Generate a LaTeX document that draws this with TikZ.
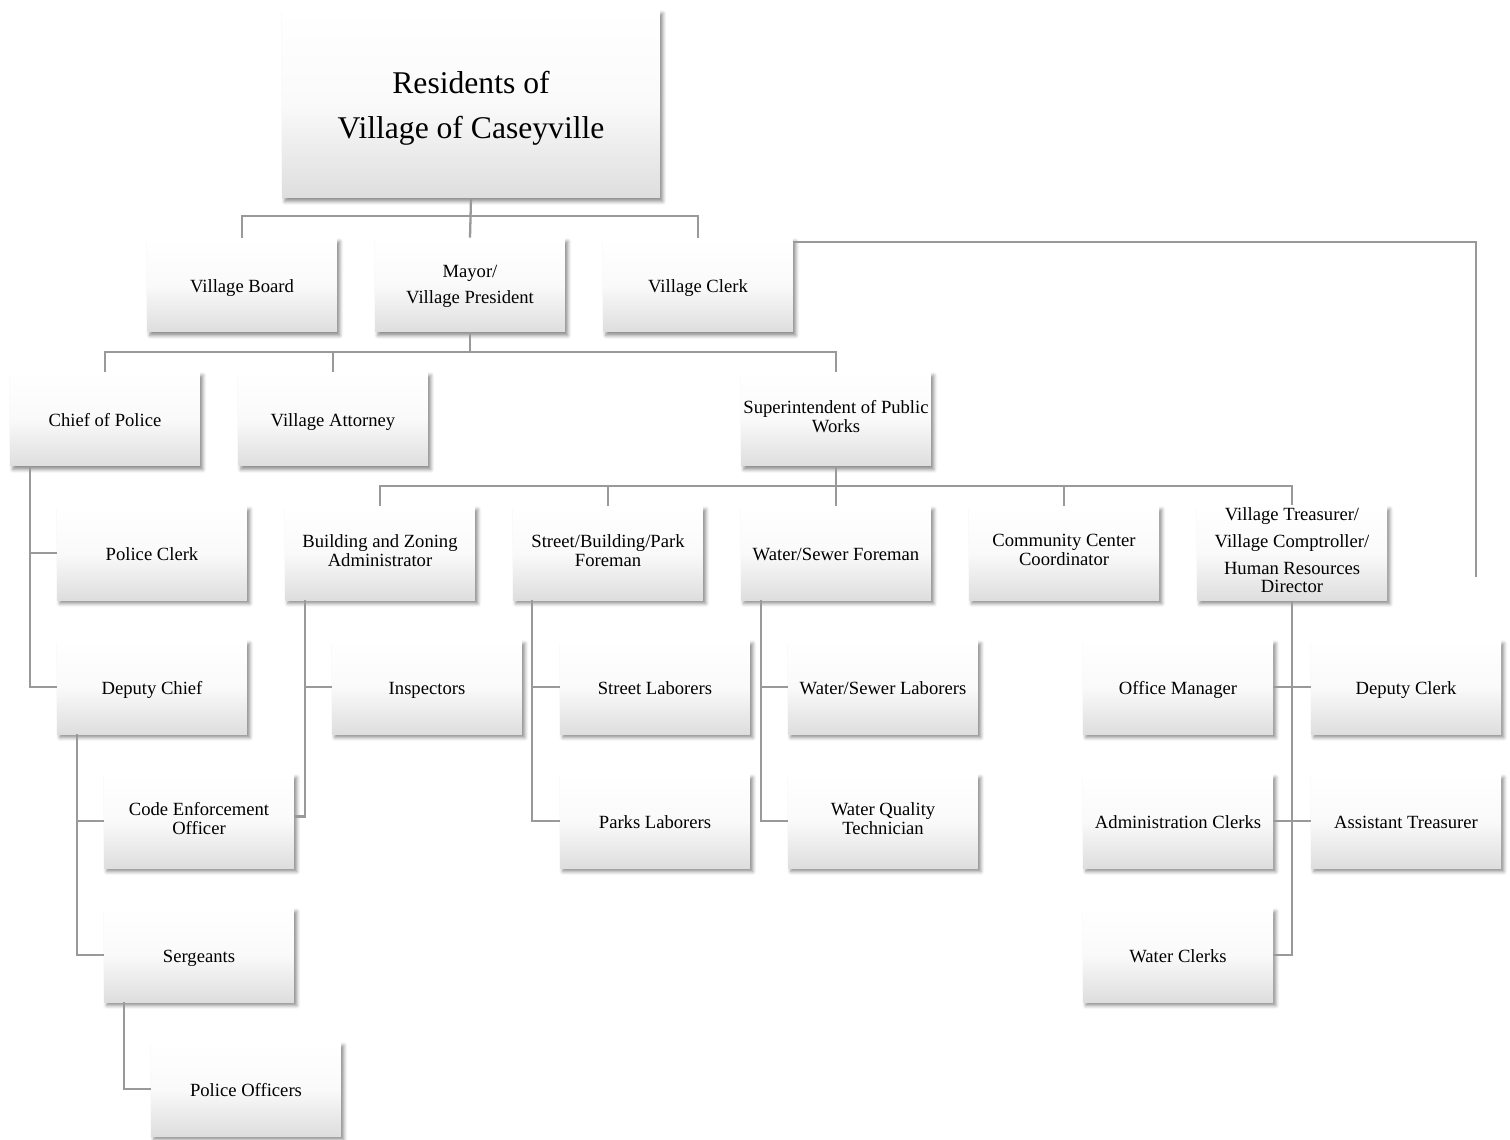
\documentclass[tikz,border=0pt]{standalone}
\usepackage{fontspec}
\setmainfont{Liberation Serif}
\usetikzlibrary{shadows.blur}

\begin{document}
\begin{tikzpicture}[x=0.02cm, y=-0.02cm,
    box/.style={rectangle, minimum width=3.8cm, minimum height=1.88cm, inner sep=1pt, align=center,
        top color=white, bottom color=black!13, middle color=black!2,
        font=\fontsize{10.6}{10.8}\selectfont,
        execute at begin node={\rule[-3.24pt]{0pt}{15pt}},
        blur shadow={shadow xshift=1.6pt, shadow yshift=-2pt, shadow blur radius=2pt, shadow opacity=45}},
    twoline/.style={box, execute at begin node={}},
    conn/.style={draw=black!40, line width=1.3pt}]
    \useasboundingbox (0,0) rectangle (1510,1139);
    % top
    \node at (471,104) [twoline, minimum width=7.56cm, minimum height=3.76cm, font=\fontsize{18}{26}\selectfont] (res) {\rule{0pt}{17.5pt}Residents of\\Village of Caseyville};
    \node at (242,285) [box] (board) {Village Board};
    \node at (470,285) [twoline] (mayor) {\rule{0pt}{10pt}Mayor/\\[4pt]Village President};
    \node at (698,285) [box] (vclerk) {Village Clerk};
    % mayor's staff
    \node at (105,419) [box] (chief) {Chief of Police};
    \node at (333,419) [box] (attorney) {Village Attorney};
    \node at (836,419) [twoline] (supt) {Superintendent of Public\\Works};
    % departments
    \node at (152,553) [box] (pclerk) {Police Clerk};
    \node at (380,553) [twoline] (bza) {Building and Zoning\\Administrator};
    \node at (608,553) [twoline] (sbp) {Street/Building/Park\\Foreman};
    \node at (836,553) [box] (wsf) {Water/Sewer Foreman};
    \node at (1064,553) [twoline] (ccc) {Community Center\\Coordinator};
    \node at (1292,553) [twoline] (treas) {Village Treasurer/\\[4.5pt]Village Comptroller/\\[4.5pt]Human Resources\\Director};
    % staff
    \node at (152,687) [box] (dchief) {Deputy Chief};
    \node at (427,687) [box] (insp) {Inspectors};
    \node at (655,687) [box] (stlab) {Street Laborers};
    \node at (883,687) [box] (wslab) {Water/Sewer Laborers};
    \node at (1178,687) [box] (offman) {Office Manager};
    \node at (1406,687) [box] (dclerk) {Deputy Clerk};
    \node at (199,821) [twoline] (ceo) {Code Enforcement\\Officer};
    \node at (655,821) [box] (parks) {Parks Laborers};
    \node at (883,821) [twoline] (wqt) {Water Quality\\Technician};
    \node at (1178,821) [box] (admclerks) {Administration Clerks};
    \node at (1406,821) [box] (asstreas) {Assistant Treasurer};
    \node at (199,955) [box] (sgt) {Sergeants};
    \node at (1178,955) [box] (wclerks) {Water Clerks};
    \node at (246,1089) [box] (officers) {Police Officers};
    \coordinate (clerkend) at (1476,577);

    % connectors
    \draw[conn] (res.south) -- (mayor.north);
    \draw[conn] (board.north) -- ++(0,-22) -| (vclerk.north);
    \draw[conn] (mayor.south) -- ++(0,20);
    \draw[conn] (chief.north) -- ++(0,-20) -| (supt.north);
    \draw[conn] (attorney.north) -- ++(0,-20);
    \draw[conn] (supt.south) -- (wsf.north);
    \draw[conn] (bza.north) -- ++(0,-20) -| (treas.north);
    \draw[conn] (sbp.north) -- ++(0,-20);
    \draw[conn] (ccc.north) -- ++(0,-20);
    \draw[conn] (vclerk.north east) ++(0,4) -| (clerkend);
    % police
    \draw[conn] (chief.south west) ++(20,0) |- (pclerk.west);
    \draw[conn] (chief.south west) ++(20,0) |- (dchief.west);
    \draw[conn] (dchief.south west) ++(20,0) |- (ceo.west);
    \draw[conn] (dchief.south west) ++(20,0) |- (sgt.west);
    \draw[conn] (sgt.south west) ++(20,0) |- (officers.west);
    % public works
    \draw[conn] (bza.south west) ++(20,0) |- ([yshift=2.5pt]ceo.east);
    \draw[conn] (bza.south west) ++(20,0) |- (insp.west);
    \draw[conn] (sbp.south west) ++(19,0) |- (stlab.west);
    \draw[conn] (sbp.south west) ++(19,0) |- (parks.west);
    \draw[conn] (wsf.south west) ++(20,0) |- (wslab.west);
    \draw[conn] (wsf.south west) ++(20,0) |- (wqt.west);
    % treasurer
    \draw[conn] (treas.south) |- (offman.east);
    \draw[conn] (treas.south) |- (dclerk.west);
    \draw[conn] (treas.south) |- (admclerks.east);
    \draw[conn] (treas.south) |- (asstreas.west);
    \draw[conn] (treas.south) |- (wclerks.east);
\end{tikzpicture}
\end{document}
